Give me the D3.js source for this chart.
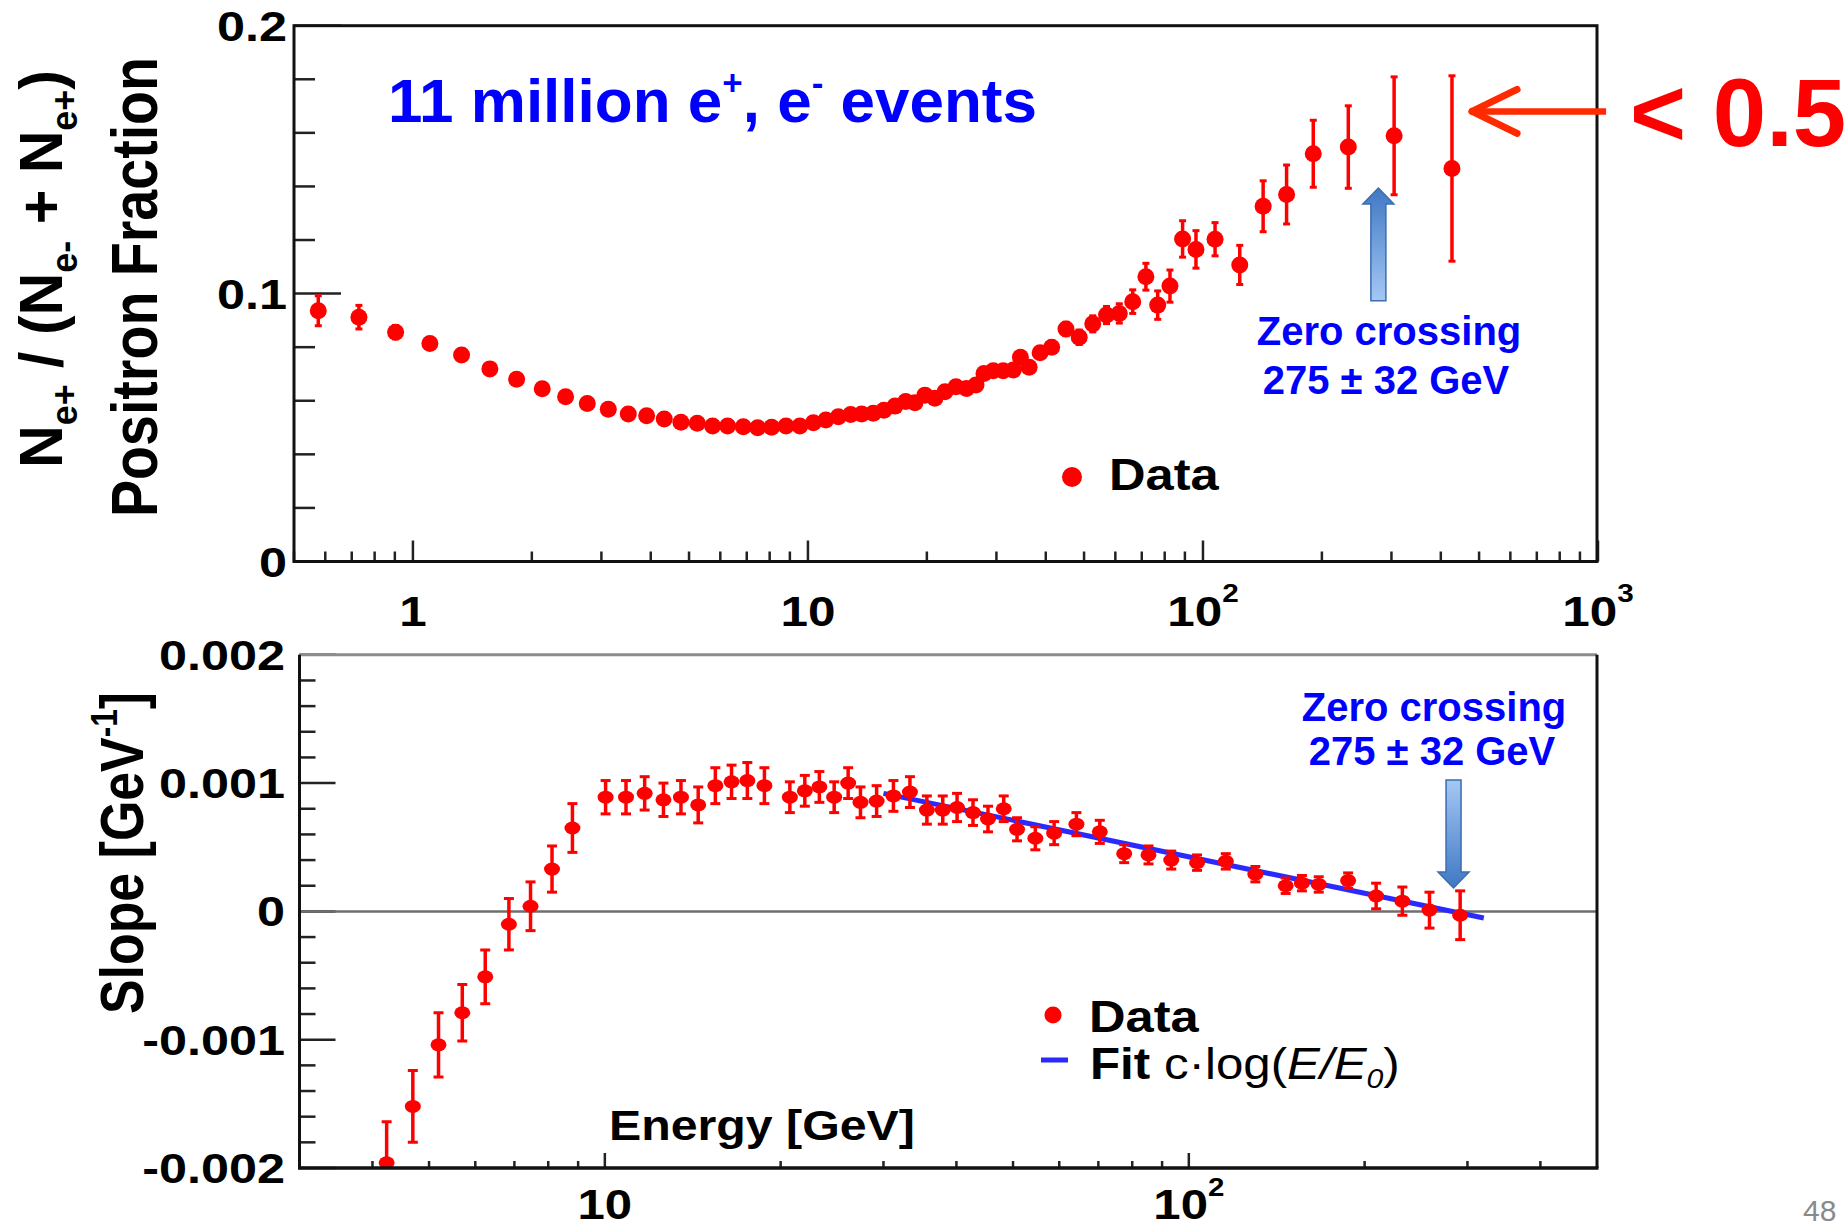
<!DOCTYPE html>
<html>
<head>
<meta charset="utf-8"/>
<script src="https://d3js.org/d3.v7.min.js"></script>
<style>
  body { margin: 0; background: #fff; }
  svg { display: block; }
  text { font-family: "Liberation Sans", Arial, Helvetica, sans-serif; }
</style>
</head>
<body>
<script>
// ---- positron fraction (top panel) ----
var fracEnergy = [0.576, 0.730, 0.904, 1.104, 1.328, 1.566, 1.83, 2.125, 2.435, 2.763,
                  3.123, 3.509, 3.905, 4.328, 4.77, 5.245, 5.737, 6.26, 6.86, 7.46,
                  8.09, 8.8, 9.54, 10.32, 11.1, 11.94, 12.83, 13.68, 14.63, 15.57,
                  16.61, 17.68, 18.66, 19.78, 20.96, 22.23, 23.7, 25.2, 26.63, 27.9,
                  29.45, 31.2, 33.1, 34.5, 36.3, 38.7, 41.4, 45.0, 48.6, 52.6,
                  57.0, 61.4, 66.4, 71.7, 76.8, 82.5, 88.8, 96.0, 107.3, 123.9,
                  142.0, 162.8, 190.2, 233.3, 304.7, 426.9];
var fracValue = [0.0936, 0.0912, 0.0856, 0.0814, 0.0771, 0.0719, 0.0680, 0.0645, 0.0615, 0.0590,
                 0.0568, 0.0551, 0.0544, 0.0532, 0.0520, 0.0516, 0.0506, 0.0506, 0.0503, 0.0499,
                 0.0501, 0.0506, 0.0506, 0.0518, 0.0528, 0.0540, 0.0549, 0.0551, 0.0553, 0.0565,
                 0.0580, 0.0597, 0.0593, 0.0621, 0.0609, 0.0634, 0.0652, 0.0646, 0.0659, 0.0702,
                 0.0712, 0.0712, 0.0715, 0.0762, 0.0725, 0.0779, 0.0800, 0.0868, 0.0837, 0.0887,
                 0.0920, 0.0926, 0.0970, 0.1063, 0.0957, 0.1028, 0.1204, 0.1165, 0.1203, 0.1107,
                 0.1326, 0.1370, 0.1522, 0.1547, 0.1589, 0.1467];
var fracError = [0.0056, 0.0044, 0.0025, 0.0020, 0.0018, 0.0016, 0.0015, 0.0014, 0.0013, 0.0013,
                 0.0012, 0.0012, 0.0012, 0.0012, 0.0012, 0.0012, 0.0012, 0.0012, 0.0012, 0.0012,
                 0.0012, 0.0012, 0.0012, 0.0012, 0.0012, 0.0013, 0.0013, 0.0013, 0.0013, 0.0013,
                 0.0014, 0.0014, 0.0014, 0.0014, 0.0015, 0.0015, 0.0015, 0.0015, 0.0015, 0.0015,
                 0.0016, 0.0017, 0.0018, 0.0019, 0.0020, 0.0021, 0.0023, 0.0025, 0.0027, 0.0030,
                 0.0032, 0.0036, 0.0044, 0.0050, 0.0053, 0.0060, 0.0068, 0.0070, 0.0062, 0.0073,
                 0.0095, 0.0110, 0.0125, 0.0154, 0.0220, 0.0346];

// ---- slope (bottom panel) ----
var slopeEnergy = [4.23, 4.69, 5.19, 5.70, 6.24, 6.85, 7.46, 8.12, 8.80,
                   10.03, 10.87, 11.70, 12.60, 13.50, 14.45, 15.46, 16.48, 17.54, 18.76,
                   20.74, 22.0, 23.3, 24.7, 26.1, 27.4, 29.2, 31.2, 33.3,
                   35.6, 37.9, 40.1, 42.7, 45.3, 48.2, 50.8, 54.6, 58.8, 64.2, 70.4,
                   77.5, 85.3, 93.3, 103.3, 115.7, 130.0,
                   146.5, 156.2, 166.9, 187.4, 209.3, 232.1, 258.3, 291.5];
var slopeValue = [-0.00196, -0.00152, -0.00104, -0.00079, -0.00051, -0.00010, 0.00004, 0.00033, 0.00065,
                  0.00089, 0.00089, 0.00092, 0.00087, 0.00089, 0.00083, 0.00098, 0.00101, 0.00102, 0.00098,
                  0.00089, 0.00094, 0.00097, 0.00089, 0.00100, 0.00085, 0.00086, 0.00090, 0.00093,
                  0.00079, 0.00079, 0.00081, 0.00077, 0.00072, 0.00080, 0.00064, 0.00057, 0.00061, 0.00068, 0.00062,
                  0.00045, 0.00044, 0.00040, 0.00038, 0.00039, 0.00029,
                  0.00020, 0.00022, 0.00021, 0.00024, 0.00012, 0.00008, 0.00001, -0.00003];
var slopeError = [0.00032, 0.00028, 0.00025, 0.00022, 0.00021, 0.00020, 0.00019, 0.00018, 0.00019,
                  0.00013, 0.00013, 0.00013, 0.00013, 0.00013, 0.00014, 0.00014, 0.00013, 0.00014, 0.00014,
                  0.00012, 0.00012, 0.00012, 0.00012, 0.00012, 0.00012, 0.00012, 0.00012, 0.00012,
                  0.00011, 0.00011, 0.00011, 0.00010, 0.00010, 0.00010, 0.00009, 0.00009, 0.00009, 0.00009, 0.00009,
                  0.00007, 0.00007, 0.00007, 0.00006, 0.00006, 0.00006,
                  0.00006, 0.00006, 0.00006, 0.00006, 0.00010, 0.00011, 0.00014, 0.00019];

// fit c*log(E/E0): straight on a log axis, so the two end points are enough
var fitEnergy = [30, 320];
var fitValue = [0.00092, -0.000052];

// axes
var fracTicks = [0, 0.1, 0.2];
var fracTickLabels = ["0", "0.1", "0.2"];
var slopeTicks = [-0.002, -0.001, 0, 0.001, 0.002];
var slopeTickLabels = ["-0.002", "-0.001", "0", "0.001", "0.002"];
var topEnergyTicks = [1, 10, 100, 1000];
var topEnergyLabels = [["1", ""], ["10", ""], ["10", "2"], ["10", "3"]];
var bottomEnergyTicks = [10, 100];
var bottomEnergyLabels = [["10", ""], ["10", "2"]];

// annotations
var crossingEnergy = [278, 284];   // where the blue arrows sit (top, bottom)

var svgDoc = d3.select("body").append("svg")
  .attr("width", 1845).attr("height", 1229);

var xTop = d3.scaleLog().domain([0.5, 1000]).range([294, 1598]);
var yTop = d3.scaleLinear().domain([0, 0.2]).range([561.5, 25.7]);
var xBot = d3.scaleLog().domain([3, 500]).range([299.5, 1597]);
var yBot = d3.scaleLinear().domain([-0.002, 0.002]).range([1168, 654.8]);

var defs = svgDoc.append("defs");
function arrowGrad(id, lightTop) {
  var g = defs.append("linearGradient").attr("id", id)
    .attr("x1", 0).attr("y1", 0).attr("x2", 0).attr("y2", 1);
  g.append("stop").attr("offset", 0).attr("stop-color", lightTop ? "#a4c8f4" : "#3f78c4");
  g.append("stop").attr("offset", 1).attr("stop-color", lightTop ? "#3f78c4" : "#a4c8f4");
}
arrowGrad("gradUp", false);
arrowGrad("gradDown", true);

// points of the slope panel are cut at its frame
defs.append("clipPath").attr("id", "botClip")
  .append("rect")
  .attr("x", xBot.range()[0]).attr("y", yBot(0.002))
  .attr("width", xBot.range()[1] - xBot.range()[0])
  .attr("height", yBot(-0.002) - yBot(0.002));

// ROOT text looks horizontally stretched, so draw it with a scale
function rootText(x, y, str, size, anchor, sx) {
  return svgDoc.append("text")
    .attr("transform", "translate(" + x + "," + y + ") scale(" + sx + ",1)")
    .attr("text-anchor", anchor)
    .attr("font-size", size)
    .attr("font-weight", "bold")
    .attr("fill", "#000")
    .text(str);
}

function powerLabel(x, y, parts, size, sx) {
  var t = svgDoc.append("text")
    .attr("transform", "translate(" + x + "," + y + ") scale(" + sx + ",1)")
    .attr("text-anchor", "middle")
    .attr("font-size", size)
    .attr("font-weight", "bold");
  t.append("tspan").text(parts[0]);
  if (parts[1] != "") {
    t.append("tspan").attr("font-size", size * 0.6).attr("dy", -size * 0.55).text(parts[1]);
  }
}

//================ TOP PANEL =================
var topG = svgDoc.append("g");

// y ticks (inside)
yTop.ticks(10).forEach(function(v) {
  var major = Math.abs(v * 10 - Math.round(v * 10)) < 1e-9;
  topG.append("line")
    .attr("x1", xTop.range()[0]).attr("x2", xTop.range()[0] + (major ? 47 : 21))
    .attr("y1", yTop(v)).attr("y2", yTop(v))
    .attr("stroke", "#222").attr("stroke-width", 2.5);
});
// x ticks
xTop.ticks().forEach(function(e) {
  var lg = Math.log10(e);
  var major = Math.abs(lg - Math.round(lg)) < 1e-9;
  topG.append("line")
    .attr("x1", xTop(e)).attr("x2", xTop(e))
    .attr("y1", yTop(0)).attr("y2", yTop(0) - (major ? 21 : 10))
    .attr("stroke", "#222").attr("stroke-width", 2.5);
});

// frame
topG.append("rect")
  .attr("x", xTop.range()[0]).attr("y", yTop(0.2))
  .attr("width", xTop.range()[1] - xTop.range()[0] - 1)
  .attr("height", yTop(0) - yTop(0.2))
  .attr("fill", "none").attr("stroke", "#111").attr("stroke-width", 3);

// tick labels
fracTicks.forEach(function(v, i) {
  rootText(287, yTop(v) + 15, fracTickLabels[i], 42, "end", 1.2);
});
topEnergyTicks.forEach(function(e, i) {
  powerLabel(xTop(e), 626, topEnergyLabels[i], 43, 1.15);
});

// error bars + points
fracEnergy.forEach(function(e, i) {
  var x = xTop(e);
  var lo = yTop(fracValue[i] - fracError[i]), hi = yTop(fracValue[i] + fracError[i]);
  topG.append("line").attr("x1", x).attr("x2", x).attr("y1", lo).attr("y2", hi)
    .attr("stroke", "#ff0000").attr("stroke-width", 3.5);
  [lo, hi].forEach(function(yy) {
    topG.append("line").attr("x1", x - 3.5).attr("x2", x + 3.5).attr("y1", yy).attr("y2", yy)
      .attr("stroke", "#ff0000").attr("stroke-width", 3);
  });
});
topG.append("g").selectAll("circle")
  .data(fracEnergy)
  .enter()
  .append("circle")
  .attr("cx", function(d) { return xTop(d); })
  .attr("cy", function(d, i) { return yTop(fracValue[i]); })
  .attr("r", 8.5)
  .attr("fill", "#ff0000");

// legend
topG.append("circle").attr("cx", 1072).attr("cy", 477).attr("r", 10).attr("fill", "#ff0000");
rootText(1109, 490, "Data", 44, "start", 1.15);

// axis titles
svgDoc.append("text")
  .attr("transform", "translate(157,517) rotate(-90) scale(1,1.2)")
  .attr("font-size", 54).attr("font-weight", "bold")
  .attr("textLength", 460).attr("lengthAdjust", "spacingAndGlyphs")
  .text("Positron Fraction");

var t2 = svgDoc.append("text")
  .attr("transform", "translate(62,468) rotate(-90) scale(1,1.08)")
  .attr("font-size", 56).attr("font-weight", "bold")
  .attr("textLength", 398).attr("lengthAdjust", "spacingAndGlyphs");
t2.append("tspan").text("N");
t2.append("tspan").attr("font-size", 34).attr("dy", 14).text("e+");
t2.append("tspan").attr("dy", -14).text(" / (N");
t2.append("tspan").attr("font-size", 34).attr("dy", 14).text("e-");
t2.append("tspan").attr("dy", -14).text(" + N");
t2.append("tspan").attr("font-size", 34).attr("dy", 14).text("e+");
t2.append("tspan").attr("dy", -14).text(")");

// "11 million" annotation
var ann = svgDoc.append("text").attr("x", 388).attr("y", 122)
  .attr("font-size", 62).attr("font-weight", "bold").attr("fill", "#0000ff");
ann.append("tspan").text("11 million e");
ann.append("tspan").attr("font-size", 35).attr("dy", -27).text("+");
ann.append("tspan").attr("dy", 27).text(", e");
ann.append("tspan").attr("font-size", 35).attr("dy", -27).text("-");
ann.append("tspan").attr("dy", 27).text(" events");

// blue arrows
function blockArrow(cx, yTail, yTip, grad) {
  var dir = yTip < yTail ? 1 : -1;     // head base is below tip for up arrow
  var base = yTip + dir * 16;
  var sw = 7.5, hw = 15.5;
  var pts = [[cx - sw, yTail], [cx - sw, base], [cx - hw, base], [cx, yTip],
             [cx + hw, base], [cx + sw, base], [cx + sw, yTail]];
  svgDoc.append("path")
    .attr("d", d3.line()(pts) + "Z")
    .attr("fill", "url(#" + grad + ")")
    .attr("stroke", "#3b6db0").attr("stroke-width", 1.5);
}
blockArrow(xTop(crossingEnergy[0]), yTop(0.0973), yTop(0.1394), "gradUp");

svgDoc.append("text").attr("x", 1389).attr("y", 345)
  .attr("text-anchor", "middle").attr("font-size", 40).attr("font-weight", "bold")
  .attr("fill", "#0000ff").text("Zero crossing");
svgDoc.append("text").attr("x", 1386).attr("y", 394)
  .attr("text-anchor", "middle").attr("font-size", 40).attr("font-weight", "bold")
  .attr("fill", "#0000ff").text("275 \u00b1 32 GeV");

// red arrow + "< 0.5"
var tipX = xTop(480), tipY = yTop(0.168);
svgDoc.append("line").attr("x1", tipX + 2).attr("x2", tipX + 134).attr("y1", tipY).attr("y2", tipY)
  .attr("stroke", "#ff2a00").attr("stroke-width", 6.5);
[-22, 22].forEach(function(dy) {
  svgDoc.append("line").attr("x1", tipX).attr("y1", tipY)
    .attr("x2", tipX + 45).attr("y2", tipY + dy)
    .attr("stroke", "#ff2a00").attr("stroke-width", 7).attr("stroke-linecap", "round");
});
svgDoc.append("text").attr("x", 1630).attr("y", 146)
  .attr("font-family", "Lato, 'Open Sans', sans-serif")
  .attr("font-size", 96).attr("font-weight", "bold").attr("fill", "#ff0000")
  .text("< 0.5");

//================ BOTTOM PANEL =================
var botG = svgDoc.append("g");

var ySlopeMinor = d3.ticks(-0.002, 0.002, 20);
ySlopeMinor.forEach(function(v) {
  var major = Math.abs(v * 1000 - Math.round(v * 1000)) < 1e-9;
  botG.append("line")
    .attr("x1", xBot.range()[0]).attr("x2", xBot.range()[0] + (major ? 36 : 16))
    .attr("y1", yBot(v)).attr("y2", yBot(v))
    .attr("stroke", "#222").attr("stroke-width", 2.5);
});
xBot.ticks().forEach(function(e) {
  if (e <= 3 || e >= 500) return;
  var lg = Math.log10(e);
  var major = Math.abs(lg - Math.round(lg)) < 1e-9;
  botG.append("line")
    .attr("x1", xBot(e)).attr("x2", xBot(e))
    .attr("y1", yBot(-0.002)).attr("y2", yBot(-0.002) - (major ? 15 : 7))
    .attr("stroke", "#222").attr("stroke-width", 2.5);
});

// zero line
botG.append("line")
  .attr("x1", xBot.range()[0]).attr("x2", xBot.range()[1])
  .attr("y1", yBot(0)).attr("y2", yBot(0))
  .attr("stroke", "#6e6e6e").attr("stroke-width", 2.5);

// fit line
botG.append("path")
  .attr("d", d3.line()
    .x(function(d) { return xBot(d); })
    .y(function(d, i) { return yBot(fitValue[i]); })(fitEnergy))
  .attr("stroke", "#2a2aff").attr("stroke-width", 5).attr("fill", "none");

// error bars + points (clipped to the frame)
var dataG = botG.append("g").attr("clip-path", "url(#botClip)");
slopeEnergy.forEach(function(e, i) {
  var x = xBot(e);
  var lo = yBot(slopeValue[i] - slopeError[i]), hi = yBot(slopeValue[i] + slopeError[i]);
  dataG.append("line").attr("x1", x).attr("x2", x).attr("y1", lo).attr("y2", hi)
    .attr("stroke", "#ff0000").attr("stroke-width", 3.5);
  [lo, hi].forEach(function(yy) {
    dataG.append("line").attr("x1", x - 5).attr("x2", x + 5).attr("y1", yy).attr("y2", yy)
      .attr("stroke", "#ff0000").attr("stroke-width", 3);
  });
});
dataG.append("g").selectAll("ellipse")
  .data(slopeEnergy)
  .enter()
  .append("ellipse")
  .attr("cx", function(d) { return xBot(d); })
  .attr("cy", function(d, i) { return yBot(slopeValue[i]); })
  .attr("rx", 8).attr("ry", 6.5)
  .attr("fill", "#ff0000");

// frame: grey top, black others
botG.append("line").attr("x1", xBot.range()[0]).attr("x2", xBot.range()[1])
  .attr("y1", yBot(0.002)).attr("y2", yBot(0.002))
  .attr("stroke", "#8c8c8c").attr("stroke-width", 3);
botG.append("line").attr("x1", xBot.range()[0]).attr("x2", xBot.range()[0])
  .attr("y1", yBot(0.002)).attr("y2", yBot(-0.002))
  .attr("stroke", "#111").attr("stroke-width", 3);
botG.append("line").attr("x1", xBot.range()[1]).attr("x2", xBot.range()[1])
  .attr("y1", yBot(0.002)).attr("y2", yBot(-0.002))
  .attr("stroke", "#111").attr("stroke-width", 3);
botG.append("line").attr("x1", xBot.range()[0] - 1.5).attr("x2", xBot.range()[1] + 1.5)
  .attr("y1", yBot(-0.002)).attr("y2", yBot(-0.002))
  .attr("stroke", "#111").attr("stroke-width", 3.5);

slopeTicks.forEach(function(v, i) {
  rootText(285, yBot(v) + 15, slopeTickLabels[i], 42, "end", 1.2);
});
bottomEnergyTicks.forEach(function(e, i) {
  powerLabel(xBot(e), 1219, bottomEnergyLabels[i], 42, 1.17);
});

// legend
botG.append("circle").attr("cx", 1053).attr("cy", 1015).attr("r", 8.5).attr("fill", "#ff0000");
rootText(1089, 1032, "Data", 44, "start", 1.15);
botG.append("line").attr("x1", 1041).attr("x2", 1068).attr("y1", 1060).attr("y2", 1060)
  .attr("stroke", "#2a2aff").attr("stroke-width", 5);
var fit = svgDoc.append("text")
  .attr("transform", "translate(1090,1079) scale(1.12,1)")
  .attr("font-size", 44);
fit.append("tspan").attr("font-weight", "bold").text("Fit ");
fit.append("tspan").text("c\u00b7log(");
fit.append("tspan").attr("font-style", "italic").text("E/E");
fit.append("tspan").attr("font-style", "italic").attr("font-size", 27).attr("dy", 9).text("0");
fit.append("tspan").attr("dy", -9).text(")");

rootText(609, 1140, "Energy [GeV]", 42, "start", 1.15);

var t3 = svgDoc.append("text")
  .attr("transform", "translate(143,1014) rotate(-90) scale(1,1.2)")
  .attr("font-size", 51).attr("font-weight", "bold")
  .attr("textLength", 322).attr("lengthAdjust", "spacingAndGlyphs");
t3.append("tspan").text("Slope [GeV");
t3.append("tspan").attr("font-size", 31).attr("dy", -22).text("-1");
t3.append("tspan").attr("dy", 22).text("]");

// blue annotation (bottom)
svgDoc.append("text").attr("x", 1434).attr("y", 721)
  .attr("text-anchor", "middle").attr("font-size", 40).attr("font-weight", "bold")
  .attr("fill", "#0000ff").text("Zero crossing");
svgDoc.append("text").attr("x", 1432).attr("y", 765)
  .attr("text-anchor", "middle").attr("font-size", 40).attr("font-weight", "bold")
  .attr("fill", "#0000ff").text("275 \u00b1 32 GeV");
blockArrow(xBot(crossingEnergy[1]), yBot(0.001025), yBot(0.000183), "gradDown");

// slide number
svgDoc.append("text").attr("x", 1803).attr("y", 1221)
  .attr("font-family", "Lato, 'Open Sans', sans-serif")
  .attr("font-size", 30).attr("fill", "#8a8a8a").text("48");
</script>
</body>
</html>
